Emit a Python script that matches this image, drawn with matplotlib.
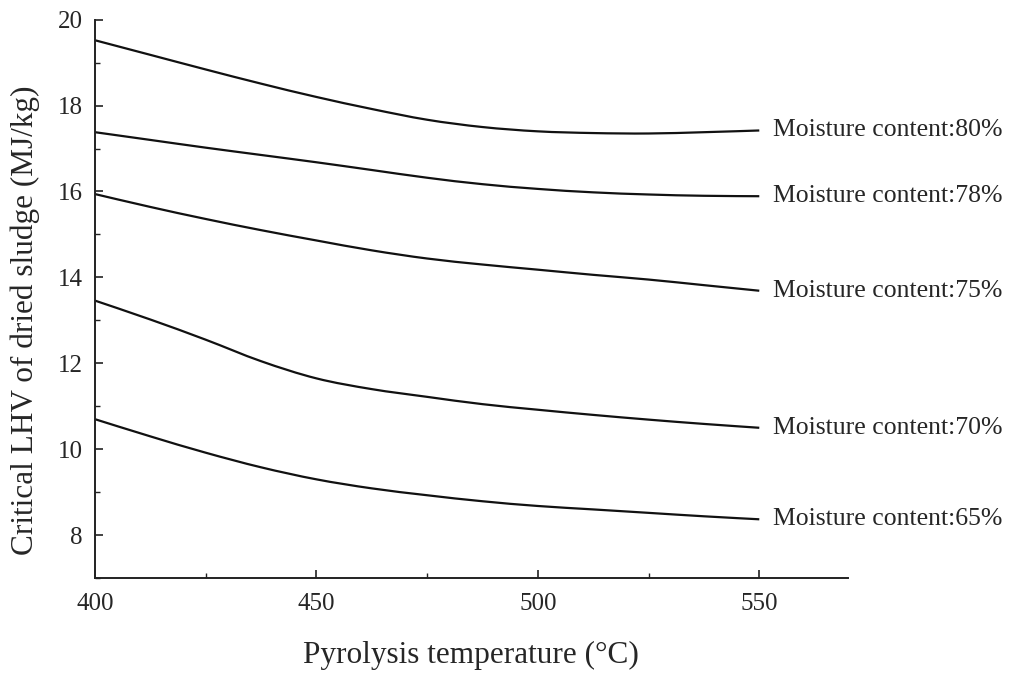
import matplotlib
matplotlib.use("Agg")
import matplotlib.pyplot as plt
import numpy as np
from matplotlib.path import Path
from matplotlib.patches import PathPatch
from matplotlib.ticker import MultipleLocator

# data
temps = [400, 412.5, 425, 437.5, 450, 462.5, 475, 487.5, 500, 512.5, 525, 537.5, 550]
lhv_80 = [19.52, 19.18, 18.84, 18.51, 18.2, 17.92, 17.67, 17.5, 17.4, 17.36, 17.35, 17.38, 17.42]
lhv_78 = [17.38, 17.2, 17.02, 16.85, 16.68, 16.5, 16.32, 16.17, 16.06, 15.98, 15.93, 15.9, 15.89]
lhv_75 = [15.94, 15.64, 15.36, 15.1, 14.86, 14.63, 14.44, 14.3, 14.18, 14.06, 13.95, 13.82, 13.69]
lhv_70 = [13.46, 13.02, 12.55, 12.05, 11.65, 11.4, 11.22, 11.05, 10.92, 10.8, 10.69, 10.59, 10.5]
lhv_65 = [10.7, 10.3, 9.92, 9.58, 9.3, 9.09, 8.93, 8.79, 8.68, 8.6, 8.52, 8.44, 8.37]
labels = ["Moisture content:80%", "Moisture content:78%", "Moisture content:75%",
          "Moisture content:70%", "Moisture content:65%"]

plt.rcParams["font.family"] = ["Liberation Serif", "DejaVu Serif"]
ink = "#262626"


def smooth_path(xs, ys):
    # catmull-rom through the read points, drawn as cubic bezier segments
    p = np.column_stack([xs, ys]).astype(float)
    verts = [p[0]]
    codes = [Path.MOVETO]
    for i in range(len(p) - 1):
        p0 = p[i - 1] if i > 0 else p[i]
        p1, p2 = p[i], p[i + 1]
        p3 = p[i + 2] if i + 2 < len(p) else p[i + 1]
        verts += [p1 + (p2 - p0) / 6, p2 - (p3 - p1) / 6, p2]
        codes += [Path.CURVE4] * 3
    return Path(verts, codes)


fig = plt.figure(figsize=(10.16, 6.77), dpi=100)
ax = fig.add_axes([0.0935, 0.146, 0.741, 0.825])

for ys, lab in zip([lhv_80, lhv_78, lhv_75, lhv_70, lhv_65], labels):
    ax.add_patch(PathPatch(smooth_path(temps, ys), facecolor="none",
                           edgecolor="#111111", lw=1.6))
    ax.annotate(lab, xy=(temps[-1], ys[-1]), xytext=(10, 0), textcoords="offset points",
                va="center", ha="left", fontsize=18.5, color=ink, annotation_clip=False)

ax.set_xlim(400, 570)
ax.set_ylim(7, 20)
ax.xaxis.set_minor_locator(MultipleLocator(25))
ax.yaxis.set_minor_locator(MultipleLocator(1))
ax.set_xticks([400, 450, 500, 550])
ax.set_yticks([8, 10, 12, 14, 16, 18, 20])

for s in ["top", "right"]:
    ax.spines[s].set_visible(False)
for s in ["left", "bottom"]:
    ax.spines[s].set_linewidth(1.4)
    ax.spines[s].set_color("#222222")

ax.tick_params(which="major", direction="in", length=6, width=1.2, labelsize=18,
               colors="#222222", labelcolor=ink)
ax.tick_params(axis="x", which="major", pad=11)
ax.tick_params(axis="y", which="major", pad=9)
ax.tick_params(which="minor", direction="in", length=3.5, width=1.0, colors="#222222")

ax.set_xlabel("Pyrolysis temperature (°C)", fontsize=22.5, color=ink)
ax.set_ylabel("Critical LHV of dried sludge (MJ/kg)", fontsize=22.5, color=ink, va="center")
ax.xaxis.set_label_coords(0.499, -0.112)
ax.yaxis.set_label_coords(-0.093, 0.461)

fig.savefig("out.png", dpi=100)
